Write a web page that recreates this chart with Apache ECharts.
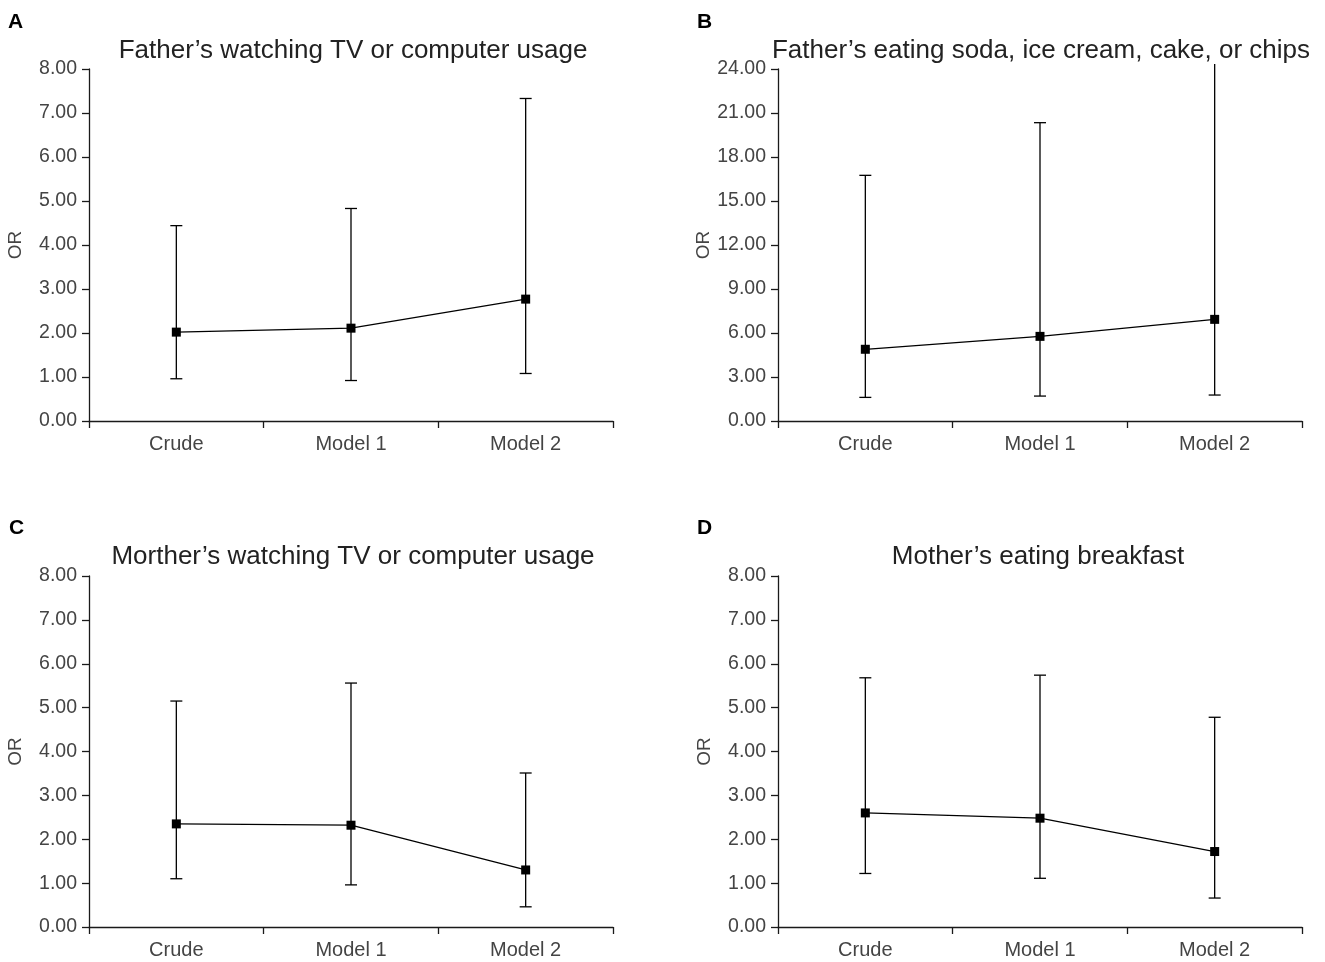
<!DOCTYPE html>
<html>
<head>
<meta charset="utf-8">
<script src="https://cdn.jsdelivr.net/npm/echarts@6/dist/echarts.min.js"></script>
<style>
html,body{margin:0;padding:0;background:#fff;}
#chart{width:1325px;height:962px;}
</style>
</head>
<body>
<div id="chart"></div>
<script>
// ---- data ----
const categories = ['Crude', 'Model 1', 'Model 2'];

const titleA = "Father\u2019s watching TV or computer usage";
const orA    = [2.02, 2.11, 2.77];
const lowerA = [0.96, 0.92, 1.08];
const upperA = [4.44, 4.83, 7.33];

const titleB = "Father\u2019s eating soda, ice cream, cake, or chips";
const orB    = [4.89, 5.77, 6.93];
const lowerB = [1.61, 1.70, 1.77];
const upperB = [16.75, 20.34, 24.34];

const titleC = "Morther\u2019s watching TV or computer usage";
const orC    = [2.35, 2.32, 1.30];
const lowerC = [1.10, 0.96, 0.46];
const upperC = [5.15, 5.56, 3.51];

const titleD = "Mother\u2019s eating breakfast";
const orD    = [2.60, 2.48, 1.72];
const lowerD = [1.22, 1.11, 0.66];
const upperD = [5.68, 5.74, 4.78];

const yMaxs      = [8, 24, 8, 8];
const yIntervals = [1, 3, 1, 1];
const letters    = ['A', 'B', 'C', 'D'];

// ---- layout ----
const panels = [
  {title: titleA, or: orA, lo: lowerA, hi: upperA},
  {title: titleB, or: orB, lo: lowerB, hi: upperB},
  {title: titleC, or: orC, lo: lowerC, hi: upperC},
  {title: titleD, or: orD, lo: lowerD, hi: upperD}
];
const grids = [
  {left: 89,  right: 712, top: 69,  bottom: 541},
  {left: 778, right: 23,  top: 69,  bottom: 541},
  {left: 89,  right: 712, top: 576, bottom: 35},
  {left: 778, right: 23,  top: 576, bottom: 35}
];
const titleCenters = [[353, 38], [1041, 38], [353, 544], [1038, 544]];
const letterPos = [[8, 12], [697, 12], [9, 518], [697, 518]];

const FONT = '"Liberation Sans", Arial, sans-serif';
const axisColor = '#1a1a1a';
const labelColor = '#444';

const option = {
  animation: false,
  backgroundColor: '#fff',
  title: [],
  grid: [],
  xAxis: [],
  yAxis: [],
  series: []
};

panels.forEach((p, i) => {
  option.grid.push(Object.assign({containLabel: false}, grids[i]));
  option.title.push({
    text: p.title, left: titleCenters[i][0], top: titleCenters[i][1],
    textAlign: 'center', padding: 0,
    textStyle: {fontFamily: FONT, fontSize: 26, fontWeight: 'normal', color: '#222'}
  });
  option.title.push({
    text: letters[i], left: letterPos[i][0], top: letterPos[i][1], padding: 0,
    textStyle: {fontFamily: FONT, fontSize: 21, fontWeight: 'bold', color: '#000'}
  });
  option.xAxis.push({
    type: 'category', gridIndex: i, data: categories, boundaryGap: true,
    axisLine: {show: true, lineStyle: {color: axisColor, width: 1.3}},
    axisTick: {show: true, length: 7, alignWithLabel: false, lineStyle: {color: axisColor, width: 1.3}},
    axisLabel: {fontFamily: FONT, fontSize: 20, color: labelColor, margin: 13},
    splitLine: {show: false}
  });
  option.yAxis.push({
    type: 'value', gridIndex: i, min: 0, max: yMaxs[i], interval: yIntervals[i],
    name: 'OR', nameLocation: 'middle', nameGap: 64, nameRotate: 90,
    nameTextStyle: {fontFamily: FONT, fontSize: 19, color: labelColor},
    axisLine: {show: true, lineStyle: {color: axisColor, width: 1.3}},
    axisTick: {show: true, length: 7, lineStyle: {color: axisColor, width: 1.3}},
    axisLabel: {fontFamily: FONT, fontSize: 19.5, color: labelColor, margin: 12,
      formatter: v => v.toFixed(2)},
    splitLine: {show: false}
  });
  const ymax = yMaxs[i];
  option.series.push({
    type: 'custom', xAxisIndex: i, yAxisIndex: i, clip: false, z: 2,
    data: categories.map((c, k) => [k, p.lo[k], p.hi[k]]),
    renderItem: function (params, api) {
      const x = api.value(0);
      const lo = api.coord([x, api.value(1)]);
      const hiVal = api.value(2);
      const hi = api.coord([x, hiVal]);
      const half = 6;
      const style = {stroke: '#000', lineWidth: 1.3};
      const children = [
        {type: 'line', shape: {x1: lo[0], y1: lo[1], x2: hi[0], y2: hi[1]}, style: style},
        {type: 'line', shape: {x1: lo[0] - half, y1: lo[1], x2: lo[0] + half, y2: lo[1]}, style: style}
      ];
      if (hiVal <= ymax) {
        children.push({type: 'line', shape: {x1: hi[0] - half, y1: hi[1], x2: hi[0] + half, y2: hi[1]}, style: style});
      }
      return {type: 'group', children: children};
    }
  });
  option.series.push({
    type: 'line', xAxisIndex: i, yAxisIndex: i, data: p.or, z: 3,
    symbol: 'rect', symbolSize: 9,
    lineStyle: {color: '#000', width: 1.3},
    itemStyle: {color: '#000'}
  });
});

const chart = echarts.init(document.getElementById('chart'), null, {renderer: 'canvas'});
chart.setOption(option);
</script>
</body>
</html>
